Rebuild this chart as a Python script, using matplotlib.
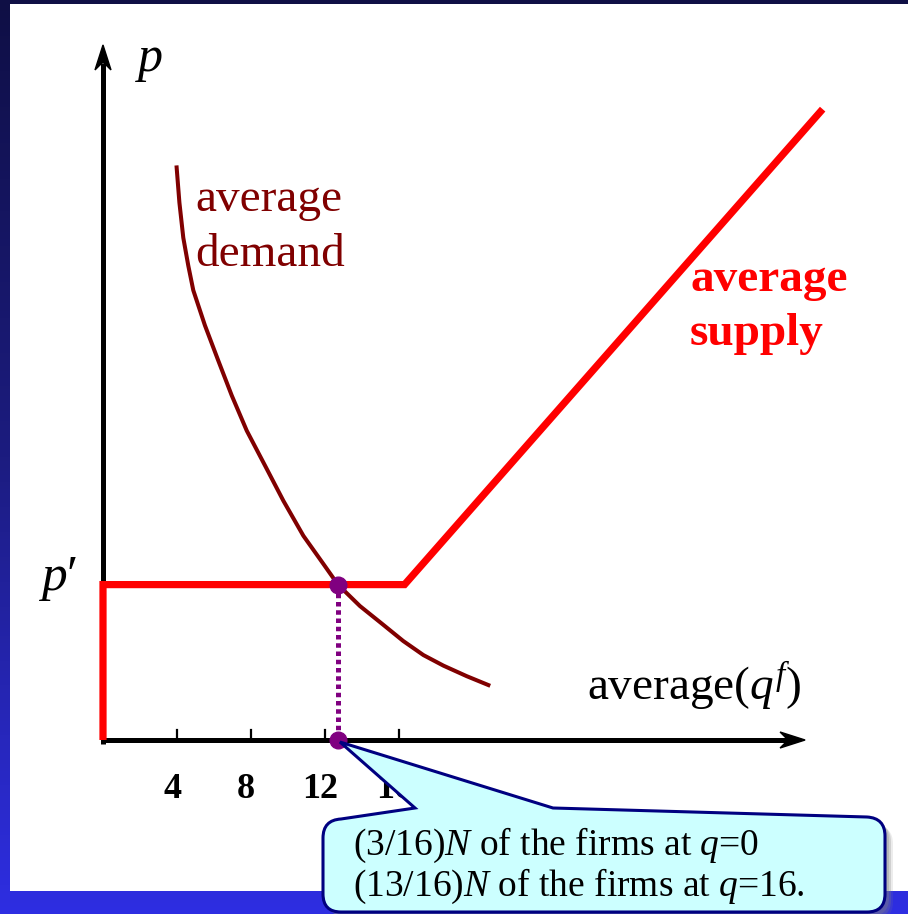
import matplotlib
matplotlib.use("Agg")
import matplotlib.pyplot as plt
import numpy as np
from matplotlib.colors import LinearSegmentedColormap
from matplotlib.patches import PathPatch, Polygon, Rectangle
from matplotlib.path import Path

plt.rcParams.update({
    "font.family": ["Liberation Serif", "DejaVu Serif"],
    "mathtext.fontset": "custom",
    "mathtext.rm": "Liberation Serif",
    "mathtext.it": "Liberation Serif:italic",
    "mathtext.bf": "Liberation Serif:bold",
})

# ---- data (axis units) ----
DEMAND_Q = [3.98, 4.13, 4.34, 4.61, 4.88, 5.51, 6.23, 6.96, 7.77, 8.76, 9.75,
            10.83, 11.91, 12.7, 13.89, 15.06, 16.23, 17.32, 18.40, 19.66, 20.83]
DEMAND_P = [30.95, 29.05, 27.15, 25.64, 24.31, 22.41, 20.51, 18.62, 16.72, 14.83, 12.93,
            11.04, 9.52, 8.4, 7.24, 6.30, 5.35, 4.59, 4.02, 3.45, 2.97]
SUPPLY_Q = [0.0, 0.0, 16.3, 38.9]
SUPPLY_P = [0.0, 8.4, 8.4, 34.1]
P_PRIME = 8.4
Q_EQ = 12.7
TICKS = [4, 8, 12, 16]
TICK_LABELS = ["4", "8", "12", "16"]
X_AXIS_END = 37.95
Y_AXIS_END = 37.57
CALLOUT_LINES = ["(3/16)$N$ of the firms at $q$=0",
                 "(13/16)$N$ of the firms at $q$=16."]

# ---- layout (pixels) ----
W, H = 908, 914
PX = 18.5          # pixels per axis unit
X0, Y0 = 103, 740  # origin in pixels (from top-left)


def P(x, y):
    """pixel position -> data coords"""
    return (x - X0) / PX, (Y0 - y) / PX


fig = plt.figure(figsize=(W / 100, H / 100), dpi=100)

# background gradient + white panel
bg = fig.add_axes([0, 0, 1, 1])
cmap = LinearSegmentedColormap.from_list("bg", ["#0f0f45", "#1c1c80", "#2e2ee2"])
bg.imshow(np.linspace(0, 1, 256).reshape(-1, 1), aspect="auto", cmap=cmap,
          extent=[0, 1, 0, 1])
bg.add_patch(Rectangle((10 / W, 1 - 891 / H), (W - 10) / W, (891 - 4) / H,
                       transform=bg.transAxes, facecolor="white",
                       edgecolor="none", zorder=2))
bg.set_xlim(0, 1)
bg.set_ylim(0, 1)
bg.set_axis_off()

ax = fig.add_axes([0, 0, 1, 1])
ax.patch.set_alpha(0)
ax.set_xlim(-X0 / PX, (W - X0) / PX)
ax.set_ylim(-(H - Y0) / PX, Y0 / PX)
ax.set_axis_off()

# axes with stealth arrowheads
ax.plot([0, X_AXIS_END - 1.0], [0, 0], color="black", lw=3.6, solid_capstyle="butt", zorder=2)
ax.plot([0, 0], [-0.2, Y_AXIS_END - 1.0], color="black", lw=3.6, solid_capstyle="butt", zorder=2)
hl, hw, nl = 25 / PX, 8 / PX, 17 / PX
ax.add_patch(Polygon([(0, Y_AXIS_END), (hw, Y_AXIS_END - hl), (0, Y_AXIS_END - nl),
                      (-hw, Y_AXIS_END - hl)], closed=True, color="black", zorder=2))
ax.add_patch(Polygon([(X_AXIS_END, 0), (X_AXIS_END - hl, hw), (X_AXIS_END - nl, 0),
                      (X_AXIS_END - hl, -hw)], closed=True, color="black", zorder=2))

for t, lab in zip(TICKS, TICK_LABELS):
    ax.plot([t, t], [0, 10 / PX], color="black", lw=1.6, zorder=2)
    ax.text(t - 5 / PX, P(0, 790)[1], lab, ha="center", va="center",
            fontsize=26, fontweight="bold", zorder=2)

# curves
ax.plot(SUPPLY_Q, SUPPLY_P, color="#ff0000", lw=5.2, solid_joinstyle="miter",
        solid_capstyle="butt", zorder=3)
ax.plot(DEMAND_Q, DEMAND_P, color="#800000", lw=2.9, solid_joinstyle="round", zorder=3)

ax.plot([Q_EQ, Q_EQ], [P_PRIME, 0], color="#800080", lw=3.6,
        linestyle=(0, (0.9, 0.75)), dash_capstyle="butt", zorder=4)
ax.plot([Q_EQ, Q_EQ], [P_PRIME, 0], "o", color="#800080", ms=12, zorder=5)

# labels
ax.text(*P(135, 71), "$p$", fontsize=36, ha="left", va="baseline")
ax.text(*P(38, 590), "$p$\u2032", fontsize=37, ha="left", va="baseline")
ax.text(*P(195, 211), "average", fontsize=34, color="#800000", va="baseline")
ax.text(*P(195, 266), "demand", fontsize=34, color="#800000", va="baseline")
ax.text(*P(690, 291), "average", fontsize=34, color="#ff0000", fontweight="bold", va="baseline")
ax.text(*P(690, 345), "supply", fontsize=34, color="#ff0000", fontweight="bold", va="baseline")
ax.text(*P(587, 700), "average($q^f$)", fontsize=34, va="baseline")

# callout with tail
tip_x = X0 + Q_EQ * PX + 2
BL, BR, BB, R = 323, 885, 912, 18
TL, TR, TT = 820, 818, 808   # top edge at left corner, right corner, tail base
verts = [(BL, BB - R), (BL, TL + R), (BL, TL), (BL + R, TL - 1),
         (415, TT), (tip_x, Y0 + 2), (553, TT),
         (BR - R, TR - 1), (BR, TR), (BR, TR + R),
         (BR, BB - R), (BR, BB), (BR - R, BB),
         (BL + R, BB), (BL, BB), (BL, BB - R), (BL, BB - R)]
codes = [Path.MOVETO, Path.LINETO, Path.CURVE3, Path.CURVE3,
         Path.LINETO, Path.LINETO, Path.LINETO,
         Path.LINETO, Path.CURVE3, Path.CURVE3,
         Path.LINETO, Path.CURVE3, Path.CURVE3,
         Path.LINETO, Path.CURVE3, Path.CURVE3, Path.CLOSEPOLY]
for off, a in [(8, 0.15), (6, 0.25), (4, 0.3)]:
    shadow = Path([P(x + off, y + off) for x, y in verts], codes)
    ax.add_patch(PathPatch(shadow, facecolor="#808080", edgecolor="none", alpha=a, zorder=6))
callout = Path([P(x, y) for x, y in verts], codes)
ax.add_patch(PathPatch(callout, facecolor="#ccffff", edgecolor="#000080", lw=2.2, zorder=7))

ax.text(*P(353, 855), CALLOUT_LINES[0], fontsize=27, va="baseline", zorder=8)
ax.text(*P(353, 896), CALLOUT_LINES[1], fontsize=27, va="baseline", zorder=8)

fig.savefig("out.png", dpi=100)
